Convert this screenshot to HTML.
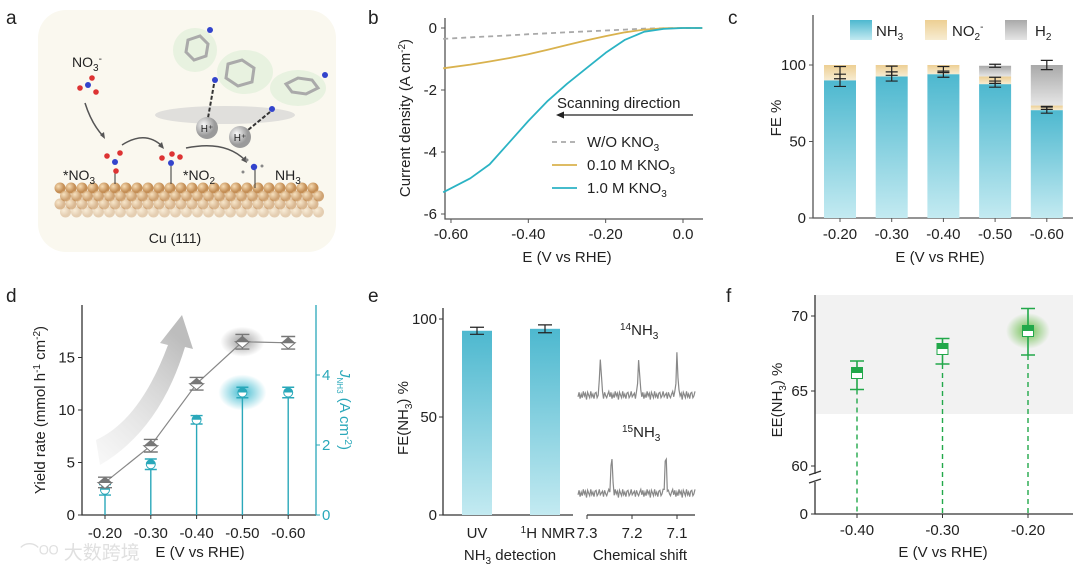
<!DOCTYPE html>
<html><head><meta charset="utf-8">
<style>
html,body{margin:0;padding:0;background:#fff;}
svg{display:block;font-family:"Liberation Sans","Noto Sans CJK SC",sans-serif;}
text{fill:#222;}
</style></head>
<body>
<svg id="fig" width="1080" height="575" viewBox="0 0 1080 575" xmlns="http://www.w3.org/2000/svg">
<defs>
<linearGradient id="gNH3" x1="0" y1="0" x2="0" y2="1"><stop offset="0" stop-color="#4db8cf"/><stop offset="1" stop-color="#c3eaf1"/></linearGradient>
<linearGradient id="gNO2" x1="0" y1="0" x2="0" y2="1"><stop offset="0" stop-color="#edcf93"/><stop offset="1" stop-color="#f7ecd2"/></linearGradient>
<linearGradient id="gH2" x1="0" y1="0" x2="0" y2="1"><stop offset="0" stop-color="#a9a9a9"/><stop offset="1" stop-color="#e6e6e6"/></linearGradient>
<radialGradient id="glowTeal"><stop offset="0" stop-color="#2fb5cc" stop-opacity="0.9"/><stop offset="1" stop-color="#2fb5cc" stop-opacity="0"/></radialGradient>
<radialGradient id="glowGray"><stop offset="0" stop-color="#888" stop-opacity="0.8"/><stop offset="1" stop-color="#888" stop-opacity="0"/></radialGradient>
<radialGradient id="glowGreen"><stop offset="0" stop-color="#5cba3c" stop-opacity="0.9"/><stop offset="1" stop-color="#5cba3c" stop-opacity="0"/></radialGradient>
<radialGradient id="cuBall" cx="0.35" cy="0.35"><stop offset="0" stop-color="#f6dcb4"/><stop offset="1" stop-color="#c48e55"/></radialGradient>
<radialGradient id="hBall" cx="0.35" cy="0.35"><stop offset="0" stop-color="#fafafa"/><stop offset="1" stop-color="#9a9a9a"/></radialGradient>
<linearGradient id="arrowG" x1="0" y1="1" x2="0.6" y2="0"><stop offset="0" stop-color="#ddd" stop-opacity="0.2"/><stop offset="1" stop-color="#bdbdbd"/></linearGradient>
</defs>

<text x="6" y="24" font-size="19">a</text>
<text x="368" y="24" font-size="19">b</text>
<text x="728" y="24" font-size="19">c</text>
<text x="6" y="302" font-size="19">d</text>
<text x="368" y="302" font-size="19">e</text>
<text x="726" y="302" font-size="19">f</text>

<g id="panelA">
<rect x="38" y="10" width="298" height="242" rx="28" fill="#faf8ef"/>
<ellipse cx="225" cy="115" rx="70" ry="9" fill="#cfcfcf" opacity="0.6"/>
<g id="cuSurf"></g>
<text x="72" y="67" font-size="14">NO<tspan font-size="10" dy="4">3</tspan><tspan font-size="10" dy="-9">-</tspan></text>
<text x="63" y="180" font-size="14">*NO<tspan font-size="10" dy="4">3</tspan></text>
<text x="183" y="180" font-size="14">*NO<tspan font-size="10" dy="4">2</tspan></text>
<text x="275" y="180" font-size="14">NH<tspan font-size="10" dy="4">3</tspan></text>
<text x="175" y="243" font-size="14" text-anchor="middle">Cu (111)</text>
<path d="M85 103 Q92 125 104 137" stroke="#555" stroke-width="1.5" fill="none"/><path d="M100 135 L105 139 L104 132Z" fill="#555"/>
<path d="M122 145 Q145 130 162 146" stroke="#555" stroke-width="1.5" fill="none"/><path d="M158 146 L164 149 L162 142Z" fill="#555"/>
<path d="M186 148 Q225 140 245 160" stroke="#555" stroke-width="1.5" fill="none"/><path d="M241 160 L247 163 L246 156Z" fill="#555"/>
<g>
<circle cx="88" cy="85" r="3" fill="#3344cc"/><circle cx="80" cy="88" r="2.8" fill="#d33"/><circle cx="92" cy="78" r="2.8" fill="#d33"/><circle cx="96" cy="92" r="2.8" fill="#d33"/>
<line x1="115" y1="171" x2="115" y2="184" stroke="#333"/><circle cx="115" cy="162" r="3" fill="#3344cc"/><circle cx="107" cy="156" r="2.8" fill="#d33"/><circle cx="120" cy="153" r="2.8" fill="#d33"/><circle cx="116" cy="171" r="2.8" fill="#d33"/>
<line x1="171" y1="166" x2="171" y2="184" stroke="#333"/><circle cx="171" cy="163" r="3" fill="#3344cc"/><circle cx="162" cy="158" r="2.8" fill="#d33"/><circle cx="180" cy="157" r="2.8" fill="#d33"/><circle cx="172" cy="154" r="2.8" fill="#d33"/>
<line x1="255" y1="170" x2="255" y2="188" stroke="#333"/><circle cx="254" cy="167" r="3.2" fill="#3344cc"/><circle cx="247" cy="160" r="1.5" fill="#888"/><circle cx="243" cy="172" r="1.5" fill="#888"/><circle cx="262" cy="166" r="1.5" fill="#888"/>
<ellipse cx="195" cy="50" rx="22" ry="22" fill="#dcefd5" opacity="0.6"/><ellipse cx="245" cy="72" rx="28" ry="22" fill="#dcefd5" opacity="0.6"/><ellipse cx="298" cy="88" rx="28" ry="18" fill="#dcefd5" opacity="0.6"/>
<polygon points="188,40 200,36 208,44 206,56 194,60 186,52" fill="none" stroke="#aaa" stroke-width="3"/>
<polygon points="228,64 242,60 254,68 252,82 238,86 226,78" fill="none" stroke="#aaa" stroke-width="3"/>
<polygon points="286,84 298,78 312,80 318,88 306,94 292,92" fill="none" stroke="#aaa" stroke-width="3"/>
<circle cx="210" cy="30" r="3" fill="#3344cc"/><circle cx="215" cy="80" r="3" fill="#3344cc"/><circle cx="272" cy="109" r="3" fill="#3344cc"/><circle cx="325" cy="75" r="3" fill="#3344cc"/>
<line x1="214" y1="84" x2="208" y2="118" stroke="#333" stroke-width="2" stroke-dasharray="4,2"/>
<line x1="270" y1="112" x2="248" y2="130" stroke="#333" stroke-width="2" stroke-dasharray="4,2"/>
<circle cx="207" cy="128" r="11" fill="url(#hBall)"/><text x="207" y="132" font-size="10" text-anchor="middle">H⁺</text>
<circle cx="240" cy="137" r="11" fill="url(#hBall)"/><text x="240" y="141" font-size="10" text-anchor="middle">H⁺</text>
</g>
</g>

<text x="20" y="559" font-size="19" style="fill:#e0e0e0">⌒ᴼᴼ 大数跨境</text>

<g id="panelB"></g>
<g id="panelC"></g>
<g id="panelD"></g>
<g id="panelE"></g>
<g id="panelF"></g>
</svg>

<script>
const bPotentials = [-0.62,-0.55,-0.50,-0.45,-0.40,-0.35,-0.30,-0.25,-0.20,-0.15,-0.10,-0.05,0.0,0.05];
const bNoNitrate = [-0.35,-0.30,-0.27,-0.24,-0.20,-0.17,-0.14,-0.11,-0.08,-0.05,-0.02,-0.01,0,0];
const bLowNitrate = [-1.30,-1.18,-1.08,-0.97,-0.85,-0.70,-0.55,-0.40,-0.26,-0.14,-0.05,-0.01,0,0];
const bHighNitrate = [-5.30,-4.85,-4.40,-3.70,-3.00,-2.35,-1.80,-1.30,-0.80,-0.38,-0.12,-0.03,0,0];
const bXTicks = [-0.6,-0.4,-0.2,0.0];
const bXTickLabels = ["-0.60","-0.40","-0.20","0.0"];
const bYTicks = [0,-2,-4,-6];
const cCategories = ["-0.20","-0.30","-0.40","-0.50","-0.60"];
const cNH3 = [90,92.5,94,87.5,70.5];
const cNO2 = [10,7.5,6,5,3];
const cH2 = [0,0,0,7,26.5];
const cNH3Err = [4,3,2,2,2];
const cNO2Err = [4,3,2,2,1];
const cH2Err = [0,0,0,1,3];
const cYTicks = [0,50,100];
const dCategories = ["-0.20","-0.30","-0.40","-0.50","-0.60"];
const dYield = [3.1,6.6,12.5,16.5,16.4];
const dYieldErr = [0.5,0.6,0.6,0.7,0.6];
const dJ = [0.72,1.45,2.72,3.5,3.5];
const dJErr = [0.15,0.15,0.12,0.15,0.15];
const dYTicks = [0,5,10,15];
const dJTicks = [0,2,4];
const eMethods = ["UV","NMR"];
const eFE = [94,95];
const eErr = [1.8,2];
const eYTicks = [0,50,100];
const eShiftTicks = [7.3,7.2,7.1];
const e14Peaks = [7.27,7.185,7.10];
const e14Heights = [38,38,42];
const e15Peaks = [7.245,7.125];
const e15Heights = [40,40];
const eNoise = [2,-3,4,-1,3,-4,1,-2,5,-3,0,3,-4,2,-1,4,-2,-3,3,1,-4,2,0,-2,4,-3,1,3,-1,-4];
const fCategories = ["-0.40","-0.30","-0.20"];
const fEE = [66.2,67.8,69.0];
const fLow = [65.1,66.8,67.4];
const fHigh = [67.0,68.5,70.5];
const fYTicks = [70,65,60];

const NS = "http://www.w3.org/2000/svg";
function mk(parent, tag, attrs, txt){
  const el = document.createElementNS(NS, tag);
  for (const k in attrs) el.setAttribute(k, attrs[k]);
  if (txt !== undefined) el.textContent = txt;
  parent.appendChild(el);
  return el;
}
const TXT = 15;

(function(){
  const g = document.getElementById('cuSurf');
  for (let r = 0; r < 4; r++) {
    for (let i = 0; i < 24; i++) {
      const c = mk(g, 'circle', {cx: 60 + i*11 + (r%2)*5.5, cy: 188 + r*8, r: 5.5, fill: 'url(#cuBall)', opacity: 1 - r*0.2});
      
      
    }
  }
})();

(function(){
  const g = document.getElementById('panelB');
  const x = v => 683 + v*386.7;
  const y = v => 28 - v*31;
  const ax = mk(g, 'path', {d: 'M445 18 V219 H703', stroke: '#555', 'stroke-width': 1.3, fill: 'none'});
  
  
  bYTicks.forEach(t => {
    mk(g, 'line', {x1: 441, x2: 445, y1: y(t), y2: y(t), stroke: '#555'});
    const l = mk(g, 'text', {x: 437, y: y(t)+5, 'font-size': TXT, 'text-anchor': 'end'}, String(t));
    
    
  });
  bXTicks.forEach((t, i) => {
    mk(g, 'line', {x1: x(t), x2: x(t), y1: 219, y2: 223, stroke: '#555'});
    const l = mk(g, 'text', {x: x(t), y: 239, 'font-size': TXT, 'text-anchor': 'middle'}, bXTickLabels[i]);
    
    
  });
  const xt = mk(g, 'text', {x: 567, y: 262, 'font-size': TXT, 'text-anchor': 'middle'}, 'E (V vs RHE)');
  
  
  const yt = mk(g, 'text', {x: 0, y: 0, 'font-size': TXT, 'text-anchor': 'middle', transform: 'translate(410,118) rotate(-90)'});
  yt.innerHTML = 'Current density (A cm<tspan font-size="10" dy="-5">-2</tspan><tspan dy="5">)</tspan>';
  
  
  const series = [[bNoNitrate,'#a9a9a9','5,4','line-no-kno3'],[bLowNitrate,'#d9b24e','','line-0p10m-kno3'],[bHighNitrate,'#2bb3c4','','line-1p0m-kno3']];
  series.forEach(s => {
    const pts = bPotentials.map((p,i) => x(p).toFixed(1)+','+y(s[0][i]).toFixed(1)).join(' ');
    const pl = mk(g, 'polyline', {points: pts, fill: 'none', stroke: s[1], 'stroke-width': 1.8, 'stroke-dasharray': s[2], 'stroke-linejoin': 'round'});
    
    
  });
  const sd = mk(g, 'text', {x: 557, y: 108, 'font-size': TXT}, 'Scanning direction');
  
  
  const sa = mk(g, 'line', {x1: 693, y1: 115, x2: 562, y2: 115, stroke: '#222', 'stroke-width': 1.2});
  
  
  mk(g, 'path', {d: 'M556 115 L564 111.5 L564 118.5 Z', fill: '#222'});
  const leg = [['#a9a9a9','5,4','W/O KNO','legend-no-kno3'],['#d9b24e','','0.10 M KNO','legend-0p10m'],['#2bb3c4','','1.0 M KNO','legend-1p0m']];
  leg.forEach((l,i) => {
    const yy = 142 + i*23;
    mk(g, 'line', {x1: 552, x2: 577, y1: yy, y2: yy, stroke: l[0], 'stroke-width': 1.8, 'stroke-dasharray': l[1]});
    const t = mk(g, 'text', {x: 587, y: yy+5, 'font-size': TXT});
    t.innerHTML = l[2] + '<tspan font-size="10" dy="4">3</tspan>';
    
    
  });
})();

(function(){
  const g = document.getElementById('panelC');
  const y = v => 218 - v*1.53;
  const xc = i => 840 + i*51.7;
  const bw = 32;
  const ax = mk(g, 'path', {d: 'M813 15 V218 H1073', stroke: '#555', 'stroke-width': 1.3, fill: 'none'});
  
  
  cYTicks.forEach(t => {
    mk(g, 'line', {x1: 809, x2: 813, y1: y(t), y2: y(t), stroke: '#555'});
    const l = mk(g, 'text', {x: 806, y: y(t)+5, 'font-size': TXT, 'text-anchor': 'end'}, String(t));
    
    
  });
  cCategories.forEach((c,i) => {
    mk(g, 'line', {x1: xc(i), x2: xc(i), y1: 218, y2: 222, stroke: '#555'});
    const l = mk(g, 'text', {x: xc(i), y: 239, 'font-size': TXT, 'text-anchor': 'middle'}, c);
    
    
    const b1 = mk(g, 'rect', {x: xc(i)-bw/2, y: y(cNH3[i]), width: bw, height: y(0)-y(cNH3[i]), fill: 'url(#gNH3)'});
    
    
    const t2 = cNH3[i] + cNO2[i];
    const b2 = mk(g, 'rect', {x: xc(i)-bw/2, y: y(t2), width: bw, height: y(cNH3[i])-y(t2), fill: 'url(#gNO2)'});
    
    
    const t3 = t2 + cH2[i];
    const b3 = mk(g, 'rect', {x: xc(i)-bw/2, y: y(t3), width: bw, height: y(t2)-y(t3), fill: 'url(#gH2)'});
    
    
    [[cNH3[i],cNH3Err[i]],[t2 - cNO2[i]/2, cNO2Err[i]],[t3, cH2Err[i]]].forEach(e => {
      if (e[1] <= 0) return;
      const v = e[0];
      const p = mk(g, 'path', {d: `M${xc(i)-6} ${y(v+e[1])} H${xc(i)+6} M${xc(i)} ${y(v+e[1])} V${y(v-e[1])} M${xc(i)-6} ${y(v-e[1])} H${xc(i)+6}`, stroke: '#222', 'stroke-width': 1.2, fill: 'none'});
      
      
    });
  });
  const xt = mk(g, 'text', {x: 940, y: 262, 'font-size': TXT, 'text-anchor': 'middle'}, 'E (V vs RHE)');
  
  
  const yt = mk(g, 'text', {x: 0, y: 0, 'font-size': TXT, 'text-anchor': 'middle', transform: 'translate(781,118) rotate(-90)'}, 'FE %');
  
  
  const leg = [['url(#gNH3)',850,876,'NH<tspan font-size="10" dy="4">3</tspan>','legend-nh3'],['url(#gNO2)',925,952,'NO<tspan font-size="10" dy="4">2</tspan><tspan font-size="10" dy="-10">-</tspan>','legend-no2'],['url(#gH2)',1005,1035,'H<tspan font-size="10" dy="4">2</tspan>','legend-h2']];
  leg.forEach(l => {
    mk(g, 'rect', {x: l[1], y: 20, width: 22, height: 20, fill: l[0]});
    const t = mk(g, 'text', {x: l[2], y: 36, 'font-size': TXT});
    t.innerHTML = l[3];
    
    
  });
})();

(function(){
  const g = document.getElementById('panelD');
  const y = v => 515 - v*10.5;
  const yj = v => 515 - v*35;
  const xc = i => 105 + i*45.8;
  const teal = '#2aa8ba';
  mk(g, 'path', {d: 'M96 440 Q140 420 168 345 L160 343 L182 315 L193 349 L185 347 Q160 430 100 465 Z', fill: 'url(#arrowG)'});
  const ax = mk(g, 'path', {d: 'M82 305 V515 H316', stroke: '#333', 'stroke-width': 1.3, fill: 'none'});
  
  
  const ax2 = mk(g, 'line', {x1: 316, x2: 316, y1: 305, y2: 515, stroke: teal, 'stroke-width': 1.3});
  
  
  dYTicks.forEach(t => {
    mk(g, 'line', {x1: 78, x2: 82, y1: y(t), y2: y(t), stroke: '#333'});
    const l = mk(g, 'text', {x: 75, y: y(t)+5, 'font-size': TXT, 'text-anchor': 'end'}, String(t));
    
    
  });
  dJTicks.forEach(t => {
    mk(g, 'line', {x1: 316, x2: 320, y1: yj(t), y2: yj(t), stroke: teal});
    const l = mk(g, 'text', {x: 322, y: yj(t)+5, 'font-size': TXT, style: 'fill:'+teal}, String(t));
    
    
  });
  mk(g, 'ellipse', {cx: xc(3), cy: y(dYield[3]), rx: 22, ry: 15, fill: 'url(#glowGray)'});
  mk(g, 'ellipse', {cx: xc(3), cy: yj(dJ[3]), rx: 24, ry: 18, fill: 'url(#glowTeal)'});
  const pts = dYield.map((v,i) => xc(i)+','+y(v)).join(' ');
  const pl = mk(g, 'polyline', {points: pts, fill: 'none', stroke: '#888', 'stroke-width': 1.2});
  
  
  dCategories.forEach((c,i) => {
    mk(g, 'line', {x1: xc(i), x2: xc(i), y1: 515, y2: 519, stroke: '#333'});
    const l = mk(g, 'text', {x: xc(i), y: 538, 'font-size': TXT, 'text-anchor': 'middle'}, c);
    
    
    const st = mk(g, 'line', {x1: xc(i), x2: xc(i), y1: yj(dJ[i]), y2: 515, stroke: teal, 'stroke-width': 1.4});
    
    
    const je = mk(g, 'path', {d: `M${xc(i)-6} ${yj(dJ[i]+dJErr[i])} H${xc(i)+6} M${xc(i)-6} ${yj(dJ[i]-dJErr[i])} H${xc(i)+6}`, stroke: teal, 'stroke-width': 1.4});
    
    
    const cy = yj(dJ[i]);
    mk(g, 'circle', {cx: xc(i), cy: cy, r: 4.5, fill: '#fff', stroke: teal, 'stroke-width': 1});
    const jm = mk(g, 'path', {d: `M${xc(i)-4.5} ${cy} A4.5 4.5 0 0 1 ${xc(i)+4.5} ${cy} Z`, fill: teal});
    
    
    const yy = y(dYield[i]);
    const ye = mk(g, 'path', {d: `M${xc(i)-7} ${y(dYield[i]+dYieldErr[i])} H${xc(i)+7} M${xc(i)} ${y(dYield[i]+dYieldErr[i])} V${y(dYield[i]-dYieldErr[i])} M${xc(i)-7} ${y(dYield[i]-dYieldErr[i])} H${xc(i)+7}`, stroke: '#777', 'stroke-width': 1.4, fill: 'none'});
    
    
    mk(g, 'path', {d: `M${xc(i)} ${yy+6} L${xc(i)+7} ${yy} L${xc(i)-7} ${yy} Z`, fill: '#fff', stroke: '#777'});
    const ym = mk(g, 'path', {d: `M${xc(i)} ${yy-6} L${xc(i)+7} ${yy} L${xc(i)-7} ${yy} Z`, fill: '#777'});
    
    
  });
  const xt = mk(g, 'text', {x: 200, y: 557, 'font-size': TXT, 'text-anchor': 'middle'}, 'E (V vs RHE)');
  
  
  const yt = mk(g, 'text', {x: 0, y: 0, 'font-size': TXT, 'text-anchor': 'middle', transform: 'translate(45,410) rotate(-90)'});
  yt.innerHTML = 'Yield rate (mmol h<tspan font-size="10" dy="-5">-1</tspan><tspan dy="5"> cm</tspan><tspan font-size="10" dy="-5">-2</tspan><tspan dy="5">)</tspan>';
  
  
  const yt2 = mk(g, 'text', {x: 0, y: 0, 'font-size': TXT, 'text-anchor': 'middle', transform: 'translate(340,410) rotate(90)', style: 'fill:'+teal});
  yt2.innerHTML = '<tspan font-style="italic">J</tspan><tspan font-size="8" dy="3">NH3</tspan><tspan dy="-3"> (A cm</tspan><tspan font-size="10" dy="-5">-2</tspan><tspan dy="5">)</tspan>';
  
  
})();

(function(){
  const g = document.getElementById('panelE');
  const y = v => 515 - v*1.96;
  const xc = i => 477 + i*68;
  const sx = v => 587 + (7.3 - v)*450;
  const ax = mk(g, 'path', {d: 'M443 308 V515 H573', stroke: '#333', 'stroke-width': 1.3, fill: 'none'});
  
  
  const ax2 = mk(g, 'line', {x1: 587, x2: 695, y1: 515, y2: 515, stroke: '#333', 'stroke-width': 1.3});
  
  
  eYTicks.forEach(t => {
    mk(g, 'line', {x1: 439, x2: 443, y1: y(t), y2: y(t), stroke: '#333'});
    const l = mk(g, 'text', {x: 437, y: y(t)+5, 'font-size': TXT, 'text-anchor': 'end'}, String(t));
    
    
  });
  eFE.forEach((v,i) => {
    const b = mk(g, 'rect', {x: xc(i)-15, y: y(v), width: 30, height: y(0)-y(v), fill: 'url(#gNH3)'});
    
    
    const e = mk(g, 'path', {d: `M${xc(i)-7} ${y(v+eErr[i])} H${xc(i)+7} M${xc(i)} ${y(v+eErr[i])} V${y(v-eErr[i])} M${xc(i)-7} ${y(v-eErr[i])} H${xc(i)+7}`, stroke: '#222', 'stroke-width': 1.2, fill: 'none'});
    
    
  });
  const l1 = mk(g, 'text', {x: xc(0), y: 538, 'font-size': TXT, 'text-anchor': 'middle'}, 'UV');
  
  
  const l2 = mk(g, 'text', {x: xc(1)+3, y: 538, 'font-size': TXT, 'text-anchor': 'middle'});
  l2.innerHTML = '<tspan font-size="10" dy="-5">1</tspan><tspan dy="5">H NMR</tspan>';
  
  
  eShiftTicks.forEach(t => {
    mk(g, 'line', {x1: sx(t), x2: sx(t), y1: 515, y2: 519, stroke: '#333'});
    const l = mk(g, 'text', {x: sx(t), y: 538, 'font-size': TXT, 'text-anchor': 'middle'}, t.toFixed(1));
    
    
  });
  function spectrum(peaks, heights, base, name){
    let pts = [];
    const n = 110;
    for (let k = 0; k <= n; k++) {
      const v = 7.32 - k*(0.26/n);
      let h = eNoise[k % eNoise.length] * 0.9;
      peaks.forEach((p,j) => { h -= heights[j] * Math.exp(-Math.pow((v-p)/0.0025,2)); });
      pts.push(sx(v).toFixed(1)+','+(base+h).toFixed(1));
    }
    const pl = mk(g, 'polyline', {points: pts.join(' '), fill: 'none', stroke: '#888', 'stroke-width': 1.2});
    
    
  }
  spectrum(e14Peaks, e14Heights, 395, 'spectrum-14nh3');
  spectrum(e15Peaks, e15Heights, 493, 'spectrum-15nh3');
  const t14 = mk(g, 'text', {x: 620, y: 335, 'font-size': TXT});
  t14.innerHTML = '<tspan font-size="10" dy="-5">14</tspan><tspan dy="5">NH</tspan><tspan font-size="10" dy="4">3</tspan>';
  
  
  const t15 = mk(g, 'text', {x: 622, y: 437, 'font-size': TXT});
  t15.innerHTML = '<tspan font-size="10" dy="-5">15</tspan><tspan dy="5">NH</tspan><tspan font-size="10" dy="4">3</tspan>';
  
  
  const xt = mk(g, 'text', {x: 510, y: 560, 'font-size': TXT, 'text-anchor': 'middle'});
  xt.innerHTML = 'NH<tspan font-size="10" dy="4">3</tspan><tspan dy="-4"> detection</tspan>';
  
  
  const xt2 = mk(g, 'text', {x: 640, y: 560, 'font-size': TXT, 'text-anchor': 'middle'}, 'Chemical shift');
  
  
  const yt = mk(g, 'text', {x: 0, y: 0, 'font-size': TXT, 'text-anchor': 'middle', transform: 'translate(408,418) rotate(-90)'});
  yt.innerHTML = 'FE(NH<tspan font-size="10" dy="4">3</tspan><tspan dy="-4">) %</tspan>';
  
  
})();

(function(){
  const g = document.getElementById('panelF');
  const y = v => 316 + (70 - v)*15;
  const xc = i => 857 + i*85.5;
  const green = '#22a84a';
  const bg = mk(g, 'rect', {x: 815, y: 295, width: 258, height: 119, fill: '#f2f2f2'});
  
  
  const ax = mk(g, 'path', {d: 'M815 295 V474 M815 482 V514 H1073', stroke: '#333', 'stroke-width': 1.3, fill: 'none'});
  
  
  mk(g, 'path', {d: 'M809 475 L821 471 M809 483 L821 479', stroke: '#333', 'stroke-width': 1.2});
  fYTicks.forEach(t => {
    mk(g, 'line', {x1: 811, x2: 815, y1: y(t), y2: y(t), stroke: '#333'});
    const l = mk(g, 'text', {x: 808, y: y(t)+5, 'font-size': TXT, 'text-anchor': 'end'}, String(t));
    
    
  });
  mk(g, 'line', {x1: 811, x2: 815, y1: 514, y2: 514, stroke: '#333'});
  const z = mk(g, 'text', {x: 808, y: 519, 'font-size': TXT, 'text-anchor': 'end'}, '0');
  
  
  mk(g, 'ellipse', {cx: xc(2), cy: y(fEE[2]), rx: 22, ry: 18, fill: 'url(#glowGreen)'});
  fCategories.forEach((c,i) => {
    mk(g, 'line', {x1: xc(i), x2: xc(i), y1: 514, y2: 518, stroke: '#333'});
    const l = mk(g, 'text', {x: xc(i), y: 535, 'font-size': TXT, 'text-anchor': 'middle'}, c);
    
    
    const dl = mk(g, 'line', {x1: xc(i), x2: xc(i), y1: y(fLow[i]), y2: 514, stroke: green, 'stroke-width': 1.4, 'stroke-dasharray': '5,4'});
    
    
    const e = mk(g, 'path', {d: `M${xc(i)-7} ${y(fHigh[i])} H${xc(i)+7} M${xc(i)} ${y(fHigh[i])} V${y(fLow[i])} M${xc(i)-7} ${y(fLow[i])} H${xc(i)+7}`, stroke: green, 'stroke-width': 1.6, fill: 'none'});
    
    
    const cy = y(fEE[i]);
    mk(g, 'rect', {x: xc(i)-5.5, y: cy-5.5, width: 11, height: 11, fill: '#fff', stroke: green, 'stroke-width': 1});
    const m = mk(g, 'rect', {x: xc(i)-5.5, y: cy-5.5, width: 11, height: 5.5, fill: green});
    
    
  });
  const xt = mk(g, 'text', {x: 943, y: 557, 'font-size': TXT, 'text-anchor': 'middle'}, 'E (V vs RHE)');
  
  
  const yt = mk(g, 'text', {x: 0, y: 0, 'font-size': TXT, 'text-anchor': 'middle', transform: 'translate(782,400) rotate(-90)'});
  yt.innerHTML = 'EE(NH<tspan font-size="10" dy="4">3</tspan><tspan dy="-4">) %</tspan>';
  
  
})();
</script>
</body></html>
